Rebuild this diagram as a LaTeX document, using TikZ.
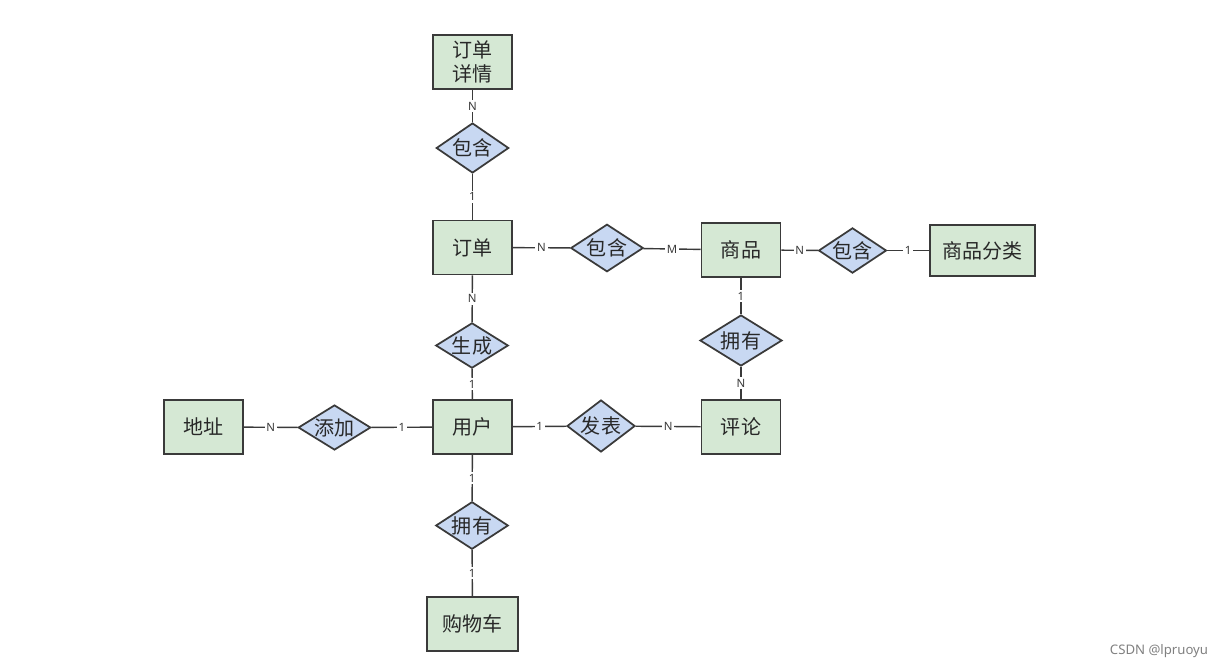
\documentclass[tikz,border=0pt]{standalone}
\usepackage{fontspec}
\setmainfont{Noto Sans}
\newfontfamily\cjk{Noto Sans CJK SC}
\usetikzlibrary{shapes.geometric}
\definecolor{entfill}{RGB}{213,232,212}
\definecolor{relfill}{RGB}{200,216,242}
\definecolor{edgegray}{RGB}{58,58,58}
\definecolor{textgray}{RGB}{40,40,40}
\tikzset{
    entity/.style={draw=edgegray, line width=1pt, fill=entfill, text=textgray,
        minimum width=1.58cm, minimum height=1.08cm, inner sep=1pt,
        font=\cjk\fontsize{11.4}{13.5}\selectfont, align=center},
    relation/.style={diamond, draw=edgegray, line width=1pt, fill=relfill, text=textgray,
        aspect=1.5, inner sep=0pt, minimum width=1.45cm, minimum height=0.95cm,
        font=\cjk\fontsize{11.4}{12.5}\selectfont},
    card/.style={fill=white, inner sep=1pt, text=edgegray,
        font=\fontsize{6.5}{7}\selectfont},
    link/.style={draw=edgegray, line width=0.8pt}
}
\begin{document}
\begin{tikzpicture}[x=0.02cm, y=-0.02cm]
    \useasboundingbox (0,0) rectangle (1216,667);

    % Entities
    \node[entity] (detail) at (472.5,62) {订单\\详情};
    \node[entity] (order) at (472.5,247.5) {订单};
    \node[entity] (goods) at (741,250) {商品};
    \node[entity, minimum width=2.1cm, minimum height=1.02cm] (category) at (982.5,250.5) {商品分类};
    \node[entity] (user) at (472.5,427) {用户};
    \node[entity] (address) at (203.5,427) {地址};
    \node[entity] (comment) at (741,427) {评论};
    \node[entity, minimum width=1.82cm] (cart) at (472.5,624) {购物车};

    % Relations
    \node[relation, minimum height=1cm] (contain1) at (472.5,148) {包含};
    \node[relation] (contain2) at (607,248) {包含};
    \node[relation, minimum width=1.34cm, minimum height=0.9cm] (contain3) at (852.5,250.5) {包含};
    \node[relation, minimum height=0.9cm] (create) at (472,345.5) {生成};
    \node[relation, minimum width=1.64cm, minimum height=1.02cm] (own1) at (741,340.5) {拥有};
    \node[relation, minimum height=0.9cm] (add) at (334.5,427.5) {添加};
    \node[relation, minimum width=1.36cm, minimum height=1.04cm] (post) at (601,426) {发表};
    \node[relation] (own2) at (472,525.5) {拥有};

    % Connectors
    \draw[link] (detail) -- node[card] {N} (contain1);
    \draw[link] (contain1) -- node[card] {1} (order);
    \draw[link] (order) -- node[card] {N} (contain2);
    \draw[link] (contain2) -- node[card] {M} (goods);
    \draw[link] (goods) -- node[card] {N} (contain3);
    \draw[link] (contain3) -- node[card] {1} (category);
    \draw[link] (order) -- node[card] {N} (create);
    \draw[link] (create) -- node[card] {1} (user);
    \draw[link] (goods) -- node[card] {1} (own1);
    \draw[link] (own1) -- node[card] {N} (comment);
    \draw[link] (address) -- node[card] {N} (add);
    \draw[link] (add) -- node[card] {1} (user);
    \draw[link] (user) -- node[card] {1} (post);
    \draw[link] (post) -- node[card] {N} (comment);
    \draw[link] (user) -- node[card] {1} (own2);
    \draw[link] (own2) -- node[card] {1} (cart);

    % Watermark
    \node[text=gray, font=\fontsize{7.5}{9}\selectfont] (mark) at (1159,651) {CSDN @lpruoyu};
\end{tikzpicture}
\end{document}
